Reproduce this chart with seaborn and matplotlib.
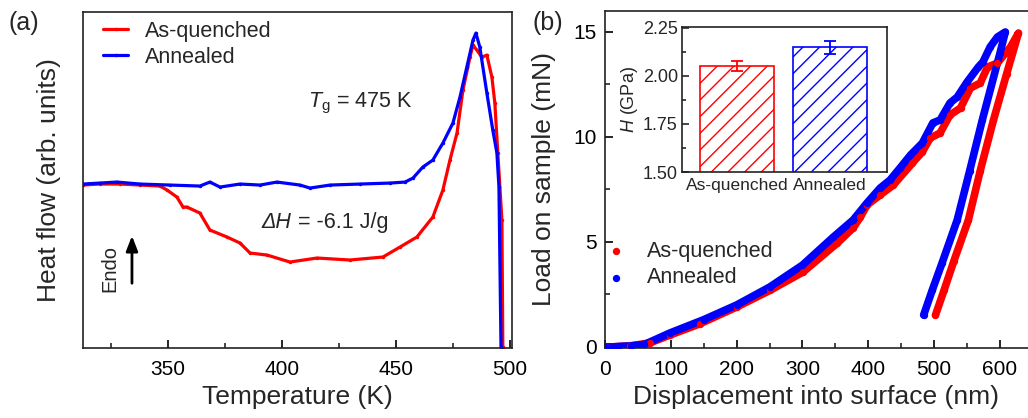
import numpy as np
import pandas as pd
import matplotlib
matplotlib.use("Agg")
import matplotlib.pyplot as plt
from matplotlib.ticker import MultipleLocator, FormatStrFormatter
import seaborn as sns

# ---------------- data ----------------
# (a) DSC curves
T_quenched = [312.7, 320.0, 329.0, 337.7, 346.5, 349.6, 353.9, 356.6, 358.3, 364.0,
              368.4, 375.9, 381.6, 386.0, 393.4, 403.5, 415.4, 429.8, 444.3, 451.8,
              459.2, 466.2, 470.6, 473.7, 476.8, 479.4, 482.5, 483.8, 485.5, 487.7,
              489.9, 492.1, 493.4, 494.7, 496.5, 496.9, 497.0]
HF_quenched = [-0.01, 0.00, 0.00, -0.01, -0.02, -0.06, -0.13, -0.23, -0.23, -0.29,
               -0.46, -0.53, -0.59, -0.69, -0.71, -0.78, -0.74, -0.76, -0.73, -0.63,
               -0.53, -0.33, -0.06, 0.24, 0.51, 0.94, 1.27, 1.39, 1.34, 1.27,
               1.29, 1.07, 0.81, 0.31, -0.36, -1.63, -1.70]
T_annealed = [312.7, 320.2, 327.6, 337.7, 350.9, 364.0, 368.4, 372.8, 381.6, 390.4,
              397.8, 407.9, 412.3, 421.1, 434.2, 447.4, 454.0, 457.5, 461.8, 466.2,
              470.6, 475.0, 478.1, 481.1, 483.8, 485.1, 486.8, 489.9, 492.5, 494.3,
              495.2, 496.1, 496.2]
HF_annealed = [0.00, 0.01, 0.02, 0.00, -0.01, -0.02, 0.02, -0.03, 0.00, -0.01,
               0.02, -0.01, -0.04, -0.01, 0.00, 0.01, 0.02, 0.06, 0.17, 0.24,
               0.41, 0.61, 0.87, 1.17, 1.44, 1.51, 1.37, 0.91, 0.54, 0.31,
               -0.03, -1.63, -1.70]

# (b) nanoindentation load-displacement (loading then unloading)
disp_quenched = [0, 10, 38, 68, 99, 144, 200, 251, 301, 353, 377, 388, 398, 418, 438,
                 467, 482, 494, 509, 524, 540, 555, 570, 581, 596, 616, 628,
                 610, 590, 570, 552, 530, 515, 502]
load_quenched = [0.0, 0.0, 0.05, 0.19, 0.57, 1.1, 1.9, 2.7, 3.57, 4.95, 5.67, 6.19, 6.76, 7.24, 7.71,
                 8.76, 9.29, 9.95, 10.19, 11.05, 11.38, 12.33, 12.57, 13.33, 13.52, 14.29, 14.95,
                 13.0, 10.8, 8.4, 6.05, 4.1, 2.7, 1.52]
disp_annealed = [0, 10, 20, 40, 60, 99, 150, 200, 250, 300, 347, 377, 398, 418, 433,
                 448, 464, 482, 498, 509, 524, 535, 550, 567, 574, 585, 596, 608,
                 600, 573, 554, 535, 512, 497, 484]
load_annealed = [0.0, 0.0, 0.02, 0.05, 0.12, 0.67, 1.3, 2.0, 2.85, 3.9, 5.24, 6.05, 6.86, 7.57, 7.95,
                 8.52, 9.14, 9.71, 10.67, 10.81, 11.62, 11.9, 12.62, 13.33, 13.57, 14.29, 14.76, 15.0,
                 14.0, 10.8, 8.4, 6.05, 4.0, 2.7, 1.52]

# inset: hardness
samples = ["As-quenched", "Annealed"]
hardness = [2.052, 2.150]
hardness_err = [0.026, 0.033]

RED = "#FF0000"
BLUE = "#0000FF"

# ---------------- style ----------------
sns.set_style("ticks")
plt.rcParams["font.family"] = ["Liberation Sans", "DejaVu Sans"]
plt.rcParams["mathtext.fontset"] = "custom"
plt.rcParams["mathtext.rm"] = "Liberation Sans"
plt.rcParams["mathtext.it"] = "Liberation Sans:italic"
plt.rcParams["hatch.linewidth"] = 1.0
plt.rcParams["axes.edgecolor"] = "#222222"
plt.rcParams["axes.linewidth"] = 1.2

fig = plt.figure(figsize=(10.28, 4.18), dpi=100)
axA = fig.add_axes([0.0807, 0.1675, 0.4173, 0.8035])
axB = fig.add_axes([0.5885, 0.1675, 0.4115, 0.8062])
axI = fig.add_axes([0.6634, 0.5885, 0.1994, 0.3469])

# ---------------- (a) ----------------
dfq = pd.DataFrame({"T": T_quenched, "HF": HF_quenched})
dfa = pd.DataFrame({"T": T_annealed, "HF": HF_annealed})
sns.lineplot(data=dfq, x="T", y="HF", ax=axA, color=RED, lw=2.3, sort=False, estimator=None,
             marker="o", markersize=2.5, markeredgewidth=0, label="As-quenched")
sns.lineplot(data=dfa, x="T", y="HF", ax=axA, color=BLUE, lw=2.3, sort=False, estimator=None,
             marker="o", markersize=2.5, markeredgewidth=0, label="Annealed")
axA.set_xlim(312.7, 500.9)
axA.set_ylim(-1.64, 1.72)
axA.xaxis.set_major_locator(MultipleLocator(50))
axA.xaxis.set_minor_locator(MultipleLocator(25))
axA.set_yticks([])
axA.tick_params(axis="x", which="major", direction="in", length=6, width=1.2,
                labelsize=15, pad=9, colors="black")
axA.tick_params(axis="x", which="minor", direction="in", length=3.5, width=1.2)
axA.set_xlabel("Temperature (K)", fontsize=19, labelpad=4)
axA.set_ylabel("Heat flow (arb. units)", fontsize=19)
axA.yaxis.set_label_coords(-0.051, 0.5)
leg = axA.legend(loc="upper left", bbox_to_anchor=(0.047, 0.975), frameon=False,
                 fontsize=15.5, handlelength=1.16, handletextpad=0.8,
                 labelspacing=0.25, borderpad=0, borderaxespad=0)
for ln in leg.get_lines():
    ln.set_linewidth(2.3)

axA.text(411.4, 0.81, r"$T_{\rm g}$ = 475 K", fontsize=15.5, va="center", ha="left")
t_dh = axA.text(391.2, -0.38, "ΔH", fontsize=15.5, fontstyle="italic", va="center", ha="left")
axA.annotate(" = -6.1 J/g", xy=(1, 0), xycoords=t_dh, fontsize=15.5, va="bottom", ha="left")
axA.text(324.6, -0.84, "Endo", fontsize=14.5, rotation=90, va="center", ha="center")
axA.annotate("", xy=(334.2, -0.49), xytext=(334.2, -1.02),
             arrowprops=dict(arrowstyle="-|>,head_width=0.35,head_length=0.9",
                             color="black", lw=2.0))

# ---------------- (b) ----------------
dbq = pd.DataFrame({"d": disp_quenched, "P": load_quenched})
dba = pd.DataFrame({"d": disp_annealed, "P": load_annealed})
sns.lineplot(data=dbq, x="d", y="P", ax=axB, color=RED, lw=5.5, sort=False, estimator=None,
             solid_capstyle="round", solid_joinstyle="round", legend=False)
sns.lineplot(data=dba, x="d", y="P", ax=axB, color=BLUE, lw=5.5, sort=False, estimator=None,
             solid_capstyle="round", solid_joinstyle="round", legend=False)
sns.scatterplot(data=dbq, x="d", y="P", ax=axB, color=RED, s=28, linewidth=0,
                label="As-quenched", zorder=3)
sns.scatterplot(data=dba, x="d", y="P", ax=axB, color=BLUE, s=28, linewidth=0,
                label="Annealed", zorder=3)
axB.set_xlim(0, 642.5)
axB.set_ylim(-0.05, 16.0)
axB.xaxis.set_major_locator(MultipleLocator(100))
axB.xaxis.set_minor_locator(MultipleLocator(50))
axB.yaxis.set_major_locator(MultipleLocator(5))
axB.yaxis.set_minor_locator(MultipleLocator(2.5))
axB.tick_params(axis="both", which="major", direction="in", length=6, width=1.2,
                labelsize=15, colors="black")
axB.tick_params(axis="x", which="major", pad=9)
axB.tick_params(axis="y", which="major", pad=6)
axB.tick_params(axis="both", which="minor", direction="in", length=3.5, width=1.2)
axB.spines["right"].set_visible(False)
axB.set_xlabel("Displacement into surface (nm)", fontsize=19, labelpad=4)
axB.set_ylabel("Load on sample (mN)", fontsize=19)
axB.yaxis.set_label_coords(-0.116, 0.5)
axB.legend(loc="upper left", bbox_to_anchor=(0.006, 0.3175), frameon=False,
           fontsize=15.5, handlelength=0.8, handletextpad=1.05,
           labelspacing=0.25, borderpad=0, borderaxespad=0)

# ---------------- inset ----------------
dfi = pd.DataFrame({"sample": samples, "H": hardness})
sns.barplot(data=dfi, x="sample", y="H", ax=axI, hue="sample",
            palette=[RED, BLUE], errorbar=None, width=0.8, legend=False)
for patch, col in zip(axI.patches, [RED, BLUE]):
    patch.set_facecolor("white")
    patch.set_edgecolor(col)
    patch.set_hatch("//")
    patch.set_linewidth(1.2)
for i, (h, e, col) in enumerate(zip(hardness, hardness_err, [RED, BLUE])):
    axI.errorbar(i, h, yerr=e, color=col, capsize=4.5, capthick=1.3, elinewidth=1.3)
axI.set_xlim(-0.59, 1.61)
axI.set_ylim(1.5, 2.255)
axI.yaxis.set_major_locator(MultipleLocator(0.25))
axI.yaxis.set_minor_locator(MultipleLocator(0.125))
axI.yaxis.set_major_formatter(FormatStrFormatter("%.2f"))
axI.tick_params(axis="y", which="major", direction="in", length=5, width=1.2,
                labelsize=13, pad=3)
axI.tick_params(axis="y", which="minor", direction="in", length=3, width=1.2)
axI.tick_params(axis="x", length=0, labelsize=12.5, pad=4)
axI.set_xlabel("")
axI.set_ylabel(r"$H$ (GPa)", fontsize=13, labelpad=2)
for sp in axI.spines.values():
    sp.set_visible(True)

fig.text(0.008, 0.945, "(a)", fontsize=18, ha="left", va="center")
fig.text(0.518, 0.945, "(b)", fontsize=18, ha="left", va="center")

fig.savefig("out.png", dpi=100)
